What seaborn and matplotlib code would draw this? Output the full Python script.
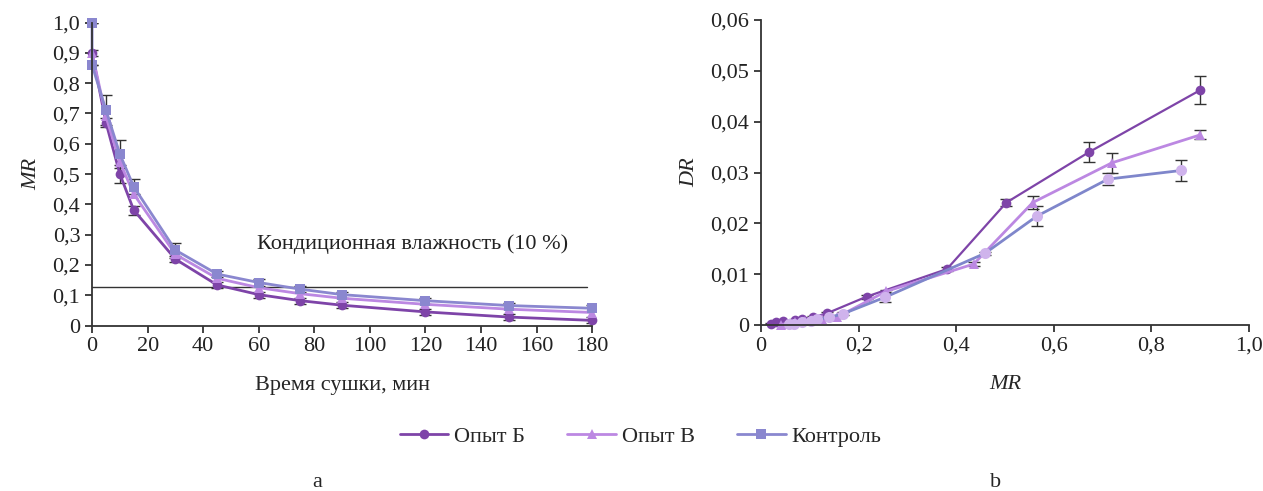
import numpy as np
import pandas as pd
import matplotlib
matplotlib.use("Agg")
import matplotlib.pyplot as plt
from matplotlib.lines import Line2D
from matplotlib.ticker import FuncFormatter, MultipleLocator
import seaborn as sns

sns.set_theme(style="ticks")
plt.rcParams['font.family'] = ['Liberation Serif', 'DejaVu Serif']

# ---------------- data: panel a (MR vs time) ----------------
time_b = [0, 5, 10, 15, 30, 45, 60, 75, 90, 120, 150, 180]
mr_b = [0.90, 0.67, 0.50, 0.381, 0.219, 0.134, 0.102, 0.082, 0.067, 0.045, 0.028, 0.017]
err_b = [0.01, 0.015, 0.03, 0.015, 0.01, 0.01, 0.01, 0.01, 0.01, 0.01, 0.01, 0.01]

time_v = [0, 5, 10, 15, 30, 45, 60, 75, 90, 120, 150, 180]
mr_v = [0.90, 0.69, 0.54, 0.434, 0.235, 0.156, 0.125, 0.105, 0.09, 0.07, 0.054, 0.043]

time_k = [0, 0, 5, 10, 15, 30, 45, 60, 75, 90, 120, 150, 180]
mr_k = [1.0, 0.86, 0.711, 0.566, 0.458, 0.249, 0.17, 0.142, 0.12, 0.102, 0.082, 0.066, 0.057]
err_k = [0.0, 0.0, 0.05, 0.045, 0.025, 0.025, 0.01, 0.01, 0.01, 0.01, 0.01, 0.01, 0.01]

threshold = 0.128
threshold_label = "Кондиционная влажность (10 %)"

# ---------------- data: panel b (DR vs MR) ----------------
mrr_b = [0.90, 0.672, 0.503, 0.381, 0.217, 0.135, 0.106, 0.085, 0.070, 0.046, 0.031, 0.020]
dr_b = [0.0462, 0.034, 0.0241, 0.011, 0.0056, 0.0023, 0.0015, 0.0012, 0.0010, 0.0007, 0.0005, 0.0003]
dre_b = [0.0027, 0.002, 0.0007, 0.0004, 0.0004, 0.0003, 0.0002, 0.0002, 0.0002, 0.0002, 0.0001, 0.0001]

mrr_v = [0.90, 0.719, 0.557, 0.436, 0.256, 0.155, 0.125, 0.105, 0.09, 0.07, 0.053, 0.042]
dr_v = [0.0374, 0.0319, 0.0241, 0.012, 0.0066, 0.0015, 0.0012, 0.0010, 0.0008, 0.0005, 0.0003, 0.0001]
dre_v = [0.0009, 0.002, 0.0012, 0.0004, 0.0003, 0.0002, 0.0002, 0.0001, 0.0001, 0.0001, 0.0001, 0.0001]

mrr_k = [0.861, 0.711, 0.565, 0.459, 0.255, 0.168, 0.139, 0.115, 0.103, 0.084, 0.067, 0.057]
dr_k = [0.0304, 0.0287, 0.0214, 0.0141, 0.0055, 0.0022, 0.0015, 0.0011, 0.0007, 0.0005, 0.0003, 0.0002]
dre_k = [0.002, 0.0012, 0.002, 0.0003, 0.001, 0.0003, 0.0002, 0.0001, 0.0001, 0.0001, 0.0001, 0.0001]

labels = ["Опыт Б", "Опыт В", "Контроль"]
c_b = "#7E44A8"
c_v = "#BC88E2"
c_k = "#8A87CF"
c_k_line_b = "#7F86CB"
c_k_mark_b = "#CFB3EC"
ecol = "#333333"
FS = 16

fig = plt.figure(figsize=(12.63, 4.91), dpi=100)
axa = fig.add_axes([0.0729, 0.337, 0.3959, 0.617])
axb = fig.add_axes([0.6025, 0.338, 0.3864, 0.6213])

# ---------- panel a ----------
da = pd.DataFrame({"t": time_b, "mr": mr_b})
dv = pd.DataFrame({"t": time_v, "mr": mr_v})
dk = pd.DataFrame({"t": time_k, "mr": mr_k})
axa.errorbar(time_b, mr_b, yerr=err_b, fmt="none", ecolor=ecol, elinewidth=1, capsize=4, zorder=1)
axa.errorbar(time_k, mr_k, yerr=err_k, fmt="none", ecolor=ecol, elinewidth=1, capsize=4, zorder=1)
sns.lineplot(data=da, x="t", y="mr", ax=axa, sort=False, estimator=None, color=c_b,
             marker="o", markersize=7, markeredgewidth=0, linewidth=2, clip_on=False)
sns.lineplot(data=dv, x="t", y="mr", ax=axa, sort=False, estimator=None, color=c_v,
             marker="^", markersize=7, markeredgewidth=0, linewidth=2, clip_on=False)
sns.lineplot(data=dk, x="t", y="mr", ax=axa, sort=False, estimator=None, color=c_k,
             marker="s", markersize=7, markeredgewidth=0, linewidth=2, clip_on=False)
axa.plot([0, 178], [threshold, threshold], color="#333333", linewidth=1, zorder=0)
axa.text(59.5, 0.27, threshold_label, fontsize=FS, color="#222222", va="center", ha="left")
axa.set_xlim(0, 180)
axa.set_ylim(0, 1.0)
axa.xaxis.set_major_locator(MultipleLocator(20))
axa.yaxis.set_major_locator(MultipleLocator(0.1))
fmt1 = FuncFormatter(lambda v, _: "0" if abs(v) < 1e-9 else f"{v:.1f}".replace(".", ","))
axa.yaxis.set_major_formatter(fmt1)
axa.xaxis.set_major_formatter(FuncFormatter(lambda v, _: f"{v:.0f}"))
axa.set_xlabel("Время сушки, мин", fontsize=FS, labelpad=14)
axa.set_ylabel("MR", fontsize=FS, fontstyle="italic", labelpad=8)

# ---------- panel b ----------
rb = pd.DataFrame({"mr": mrr_b, "dr": dr_b})
rv = pd.DataFrame({"mr": mrr_v, "dr": dr_v})
rk = pd.DataFrame({"mr": mrr_k, "dr": dr_k})
axb.errorbar(mrr_b, dr_b, yerr=dre_b, fmt="none", ecolor=ecol, elinewidth=1, capsize=4, zorder=1)
axb.errorbar(mrr_v, dr_v, yerr=dre_v, fmt="none", ecolor=ecol, elinewidth=1, capsize=4, zorder=1)
axb.errorbar(mrr_k, dr_k, yerr=dre_k, fmt="none", ecolor=ecol, elinewidth=1, capsize=4, zorder=1)
sns.lineplot(data=rb, x="mr", y="dr", ax=axb, sort=False, estimator=None, color=c_b,
             marker="o", markersize=7, markeredgewidth=0, linewidth=1.6, clip_on=False)
sns.lineplot(data=rv, x="mr", y="dr", ax=axb, sort=False, estimator=None, color=c_v,
             marker="^", markersize=7, markeredgewidth=0, linewidth=2, clip_on=False)
sns.lineplot(data=rk, x="mr", y="dr", ax=axb, sort=False, estimator=None, color=c_k_line_b,
             marker="o", markersize=8, markeredgewidth=0, markerfacecolor=c_k_mark_b, linewidth=2,
             clip_on=False)
axb.set_xlim(0, 1.0)
axb.set_ylim(0, 0.06)
axb.xaxis.set_major_locator(MultipleLocator(0.2))
axb.yaxis.set_major_locator(MultipleLocator(0.01))
axb.xaxis.set_major_formatter(fmt1)
axb.yaxis.set_major_formatter(FuncFormatter(lambda v, _: "0" if abs(v) < 1e-9 else f"{v:.2f}".replace(".", ",")))
axb.set_xlabel("MR", fontsize=FS, fontstyle="italic", labelpad=14)
axb.set_ylabel("DR", fontsize=FS, fontstyle="italic", labelpad=8)

for ax in (axa, axb):
    sns.despine(ax=ax)
    for s in ("left", "bottom"):
        ax.spines[s].set_color("#333333")
        ax.spines[s].set_linewidth(1.3)
    ax.tick_params(axis="both", labelsize=FS, colors="#333333", labelcolor="#222222",
                   length=5, width=1.3, direction="out")
    ax.set_facecolor("white")
    ax.grid(False)

handles = [
    Line2D([], [], color=c_b, marker="o", markersize=7, markeredgewidth=0, linewidth=2),
    Line2D([], [], color=c_v, marker="^", markersize=7, markeredgewidth=0, linewidth=2),
    Line2D([], [], color=c_k, marker="s", markersize=7, markeredgewidth=0, linewidth=2),
]
fig.legend(handles, labels, loc="center", bbox_to_anchor=(0.507, 0.11), ncol=3, frameon=False,
           fontsize=FS, handlelength=2.2, columnspacing=1.9, handletextpad=0.25)

fig.text(0.251, 0.008, "a", fontsize=FS, ha="center", va="baseline")
fig.text(0.788, 0.008, "b", fontsize=FS, ha="center", va="baseline")

fig.savefig("out.png", dpi=100, facecolor="white")
